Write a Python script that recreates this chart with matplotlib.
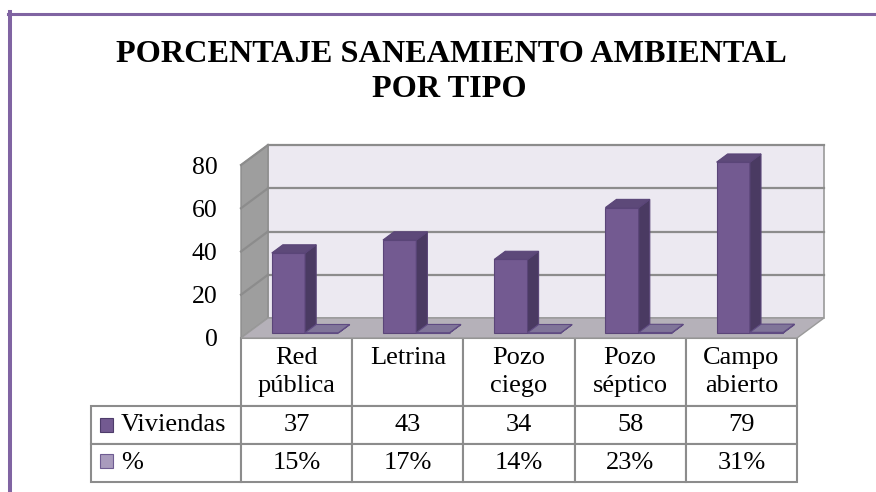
import matplotlib
matplotlib.use("Agg")
import matplotlib.pyplot as plt
from matplotlib.patches import Polygon, Rectangle
from matplotlib.lines import Line2D

# datos
categorias = ["Red\npública", "Letrina\n ", "Pozo\nciego", "Pozo\nséptico", "Campo\nabierto"]
viviendas = [37, 43, 34, 58, 79]
porcentaje = [0.15, 0.17, 0.14, 0.23, 0.31]
series = ["Viviendas", "%"]
yticks = [0, 20, 40, 60, 80]

plt.rcParams['font.family'] = ['Liberation Serif', 'DejaVu Serif']

W, H = 876, 492
AW, AH = 556, 173   # tamaño del eje en px
fig = plt.figure(figsize=(W / 100, H / 100), dpi=100)
ax = fig.add_axes([241 / W, 154 / H, AW / W, AH / H])
ax.set_xlim(-0.5, 4.5)
ax.set_ylim(0, 80)
ax.set_frame_on(False)
ax.set_xticks([])
ax.set_yticks(yticks)
ax.tick_params(axis='y', length=0, pad=17, labelsize=18.5)

# profundidad del efecto 3D (27 px a la derecha, 20 px arriba)
p0 = ax.transData.transform((0, 0))
p1 = ax.transData.transform((1, 1))
ddx = 27 / (p1[0] - p0[0])
ddy = 20 / (p1[1] - p0[1])

def poly(pts, fc, ec='none', lw=0, z=1):
    ax.add_patch(Polygon(pts, closed=True, fc=fc, ec=ec, lw=lw, zorder=z, clip_on=False))

# paredes y piso
xl, xr = -0.5, 4.5
ax.add_patch(Rectangle((xl + ddx, ddy), xr - xl, yticks[-1], fc='#ece9f1', ec='#9a9a9a',
                       lw=1.2, zorder=0, clip_on=False))
poly([(xl, 0), (xl, yticks[-1]), (xl + ddx, yticks[-1] + ddy), (xl + ddx, ddy)], '#9e9e9e', '#8c8c8c', 1, 0.5)
poly([(xl, 0), (xr, 0), (xr + ddx, ddy), (xl + ddx, ddy)], '#b5b1b9', '#9a9a9a', 1, 0.6)
for v in yticks[1:]:
    ax.plot([xl + ddx, xr + ddx], [v + ddy, v + ddy], color='#8c8c8c', lw=1.6, zorder=0.7, clip_on=False)
    ax.plot([xl, xl + ddx], [v, v + ddy], color='#8c8c8c', lw=1.6, zorder=0.7, clip_on=False)

# barras 3D
f0, f1 = 0.25, 0.66
w = 0.3
def bars3d(xs, vals, c_front, c_side, c_top, c_edge):
    xs = [x + f0 * ddx for x in xs]
    ax.bar(xs, vals, width=w, bottom=f0 * ddy, color=c_front, edgecolor=c_edge, lw=0.8,
           zorder=2, clip_on=False)
    d = (f1 - f0)
    for x, v in zip(xs, vals):
        xa, xb = x - w / 2, x + w / 2
        yb, yt = f0 * ddy, v + f0 * ddy
        poly([(xb, yb), (xb, yt), (xb + d * ddx, yt + d * ddy), (xb + d * ddx, yb + d * ddy)],
             c_side, c_edge, 0.8, 2)
        poly([(xa, yt), (xb, yt), (xb + d * ddx, yt + d * ddy), (xa + d * ddx, yt + d * ddy)],
             c_top, c_edge, 0.8, 2)

idx = range(len(viviendas))
bars3d([i - 0.134 for i in idx], viviendas, '#735a91', '#4a3a62', '#5d4979', '#5a4578')
bars3d([i + 0.166 for i in idx], porcentaje, '#a99bbd', '#6a5d86', '#807599', '#5f4b82')

# tabla de datos (anchos/altos en coordenadas de eje)
cell_text = [[str(v) for v in viviendas], [f"{round(p * 100)}%" for p in porcentaje]]
tbl = ax.table(cellText=cell_text, colLabels=categorias, cellLoc='center',
               bbox=[0, -144 / AH, 1, 144 / AH])
for r, lab in enumerate(series):
    tbl.add_cell(r + 1, -1, width=150 / AW, height=38 / AH, text=lab, loc='left')
tbl.auto_set_font_size(False)
tbl.set_fontsize(19)
for (r, c), cell in tbl.get_celld().items():
    cell.set_width((150 if c == -1 else 111.2) / AW)
    cell.set_height((68 if r == 0 else 38) / AH)
    cell.set_edgecolor('#8c8c8c')
    cell.set_linewidth(1.5)
    cell.get_text().set_linespacing(1.3)
    if c == -1:
        cell.PAD = 0.2

# claves de leyenda
ax.add_patch(Rectangle((-0.2536, -0.543), 0.0234, 0.081, transform=ax.transAxes,
                       fc='#735a91', ec='#4e3c6b', lw=0.8, clip_on=False, zorder=5))
ax.add_patch(Rectangle((-0.2536, -0.751), 0.0234, 0.081, transform=ax.transAxes,
                       fc='#a99bbd', ec='#6f5c92', lw=0.8, clip_on=False, zorder=5))

# titulo
fig.text(451 / W, 1 - 62 / H, "PORCENTAJE SANEAMIENTO AMBIENTAL", ha='center', va='baseline',
         fontsize=23.2, fontweight='bold')
fig.text(449 / W, 1 - 97 / H, "POR TIPO", ha='center', va='baseline',
         fontsize=23.2, fontweight='bold')

# marco morado
fig.add_artist(Line2D([10 / W, 10 / W], [0, 1 - 12 / H], transform=fig.transFigure,
                      color='#8064a2', lw=2.9))
fig.add_artist(Line2D([8 / W, 1], [1 - 13.5 / H, 1 - 13.5 / H], transform=fig.transFigure,
                      color='#8064a2', lw=2.2))

fig.savefig("out.png", dpi=100)
